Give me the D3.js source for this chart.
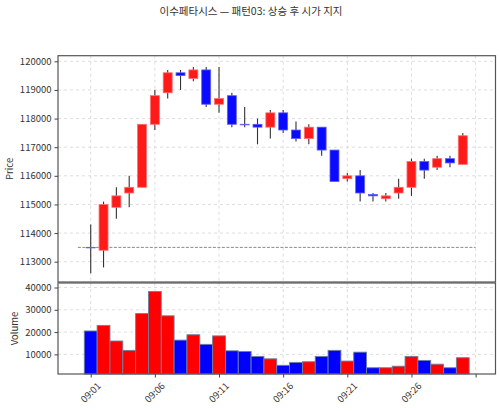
<!DOCTYPE html>
<html>
<head>
<meta charset="utf-8">
<script src="https://cdn.jsdelivr.net/npm/d3@7"></script>
<style>
  body { margin: 0; background: #fff; }
  text { font-family: "Noto Sans CJK KR", "Noto Sans", sans-serif; fill: #333; }
  .axis text { font-size: 9.5px; }
  .axis path.domain { display: none; }
  .axis line { stroke: #444; }
</style>
</head>
<body>
<svg width="500" height="411"></svg>
<script>
var times = ["09:01","09:02","09:03","09:04","09:05","09:06","09:07","09:08","09:09","09:10",
             "09:11","09:12","09:13","09:14","09:15","09:16","09:17","09:18","09:19","09:20",
             "09:21","09:22","09:23","09:24","09:25","09:26","09:27","09:28","09:29","09:30"];
var opens  = [113500,113400,114900,115400,115600,117800,118900,119600,119400,119700,
              118500,118800,117800,117800,117700,118200,117600,117300,117700,116900,
              115900,116000,115350,115200,115400,115600,116500,116300,116600,116400];
var highs  = [114300,115100,115600,116000,117800,119000,119700,119700,119800,119800,
              119800,118900,118400,118000,118300,118300,117900,117800,117700,116900,
              116100,116200,115400,115400,115900,116600,116600,116700,116700,117500];
var lows   = [112600,112800,114500,114900,115600,117600,118700,119000,119300,118400,
              118200,117700,117700,117100,117300,117500,117200,117100,116700,115800,
              115800,115100,115100,115100,115200,115300,115900,116200,116300,116400];
var closes = [113500,115000,115300,115600,117800,118800,119600,119500,119700,118500,
              118700,117800,117780,117700,118200,117600,117300,117700,116900,115800,
              116000,115400,115300,115300,115600,116500,116200,116600,116450,117400];
var volumes = [20500,23000,16000,11800,28300,38200,27300,16400,18800,14500,
               18300,11600,11300,9100,8000,5100,6400,6700,9100,11800,
               7000,11000,4000,4000,4700,9100,7300,5600,4000,8500];
var supportLevel = 113500;
var priceTicks = [113000,114000,115000,116000,117000,118000,119000,120000];
var volumeTicks = [10000,20000,30000,40000];
var titleText = "이수페타시스 — 패턴03: 상승 후 시가 지지";

var upColor = "#ff1a1a", upEdge = "#ff7070",
    downColor = "#0a0aff", downEdge = "#6060ff";

var candles = times.map(function(t, i) {
    return {i: i, time: t, open: opens[i], high: highs[i], low: lows[i], close: closes[i], volume: volumes[i]};
});

var svg = d3.select("svg");
var left = 58, right = 495.5;
var priceTop = 55.7, priceBottom = 282;
var volTop = 283, volBottom = 374;

var n = times.length;
var span = [-1, n];
var pad = 0.05 * (span[1] - span[0]);
var x = d3.scaleLinear().domain([span[0] - pad, span[1] + pad]).range([left, right]);
var y = d3.scaleLinear().domain([112291, 120196]).range([priceBottom, priceTop]);
var yv = d3.scaleLinear()
    .domain([0.3 * d3.min(volumes), 1.1 * d3.max(volumes)])
    .range([volBottom, volTop]);

var xTicks = d3.range(0, n + 1, 5);

function isUp(d) { return d.close > d.open; }

// title
svg.append("text")
    .attr("x", 251).attr("y", 15)
    .attr("text-anchor", "middle")
    .style("font-size", "10.5px")
    .text(titleText);

function grid(g, yScale, yTickVals, top, bottom) {
    g.selectAll(".gx").data(xTicks).enter().append("line")
        .attr("x1", function(d) { return x(d); }).attr("x2", function(d) { return x(d); })
        .attr("y1", top).attr("y2", bottom)
        .attr("stroke", "#d4d4d4").attr("stroke-width", 0.8).attr("stroke-dasharray", "3,3");
    g.selectAll(".gy").data(yTickVals).enter().append("line")
        .attr("x1", left).attr("x2", right)
        .attr("y1", function(d) { return yScale(d); }).attr("y2", function(d) { return yScale(d); })
        .attr("stroke", "#d4d4d4").attr("stroke-width", 0.8).attr("stroke-dasharray", "3,3");
}

var pg = svg.append("g");
grid(pg, y, priceTicks, priceTop, priceBottom);
var vg = svg.append("g");
grid(vg, yv, volumeTicks, volTop, volBottom);

// support line
pg.append("line")
    .attr("x1", x(span[0])).attr("x2", x(span[1]))
    .attr("y1", y(supportLevel)).attr("y2", y(supportLevel))
    .attr("stroke", "#8a8a8a").attr("stroke-width", 1).attr("stroke-dasharray", "3,1.5");

// candles
var cw = 0.7;
var c = pg.selectAll(".candle").data(candles).enter().append("g").attr("class", "candle");
c.append("line")
    .attr("x1", function(d) { return x(d.i); }).attr("x2", function(d) { return x(d.i); })
    .attr("y1", function(d) { return y(d.high); }).attr("y2", function(d) { return y(d.low); })
    .attr("stroke", "#333").attr("stroke-width", 1.1);
c.append("rect")
    .attr("x", function(d) { return x(d.i - cw / 2); })
    .attr("width", x(cw) - x(0))
    .attr("y", function(d) { return y(Math.max(d.open, d.close)); })
    .attr("height", function(d) { return Math.max(0.5, y(Math.min(d.open, d.close)) - y(Math.max(d.open, d.close))); })
    .attr("fill", function(d) { return isUp(d) ? upColor : downColor; })
    .attr("stroke", function(d) { return isUp(d) ? upEdge : downEdge; })
    .attr("stroke-width", 0.8);

// volume bars
vg.selectAll(".vbar").data(candles).enter().append("rect")
    .attr("x", function(d) { return x(d.i - 0.5); })
    .attr("width", x(1) - x(0))
    .attr("y", function(d) { return yv(d.volume); })
    .attr("height", function(d) { return volBottom - yv(d.volume); })
    .attr("fill", function(d) { return isUp(d) ? "#ff0000" : "#0000ff"; })
    .attr("stroke", "#6f7fa0").attr("stroke-width", 0.9);

// frames
[[priceTop, priceBottom], [volTop, volBottom]].forEach(function(p) {
    svg.append("rect")
        .attr("x", left).attr("y", p[0])
        .attr("width", right - left).attr("height", p[1] - p[0])
        .attr("fill", "none").attr("stroke", "#555").attr("stroke-width", 1.2);
});

// axes
svg.append("g").attr("class", "axis")
    .attr("transform", "translate(" + left + ",0)")
    .call(d3.axisLeft(y).tickValues(priceTicks).tickSize(3.5).tickPadding(3).tickFormat(d3.format("d")));
svg.append("g").attr("class", "axis")
    .attr("transform", "translate(" + left + ",0)")
    .call(d3.axisLeft(yv).tickValues(volumeTicks).tickSize(3.5).tickPadding(3).tickFormat(d3.format("d")));

var xa = svg.append("g").attr("class", "axis")
    .attr("transform", "translate(0," + volBottom + ")")
    .call(d3.axisBottom(x).tickValues(xTicks).tickSize(3.5).tickFormat(function(d) { return times[d] || ""; }));
xa.selectAll("text")
    .attr("text-anchor", "middle")
    .attr("dy", null)
    .attr("y", 0)
    .attr("transform", "translate(0,19) rotate(-45)")
    .attr("dominant-baseline", "middle");

// axis labels
svg.append("text")
    .attr("transform", "translate(10," + (priceTop + priceBottom) / 2 + ") rotate(-90)")
    .attr("text-anchor", "middle").attr("dominant-baseline", "middle")
    .style("font-size", "9.5px").text("Price");
svg.append("text")
    .attr("transform", "translate(15," + (volTop + volBottom) / 2 + ") rotate(-90)")
    .attr("text-anchor", "middle").attr("dominant-baseline", "middle")
    .style("font-size", "9.5px").text("Volume");
</script>
</body>
</html>
